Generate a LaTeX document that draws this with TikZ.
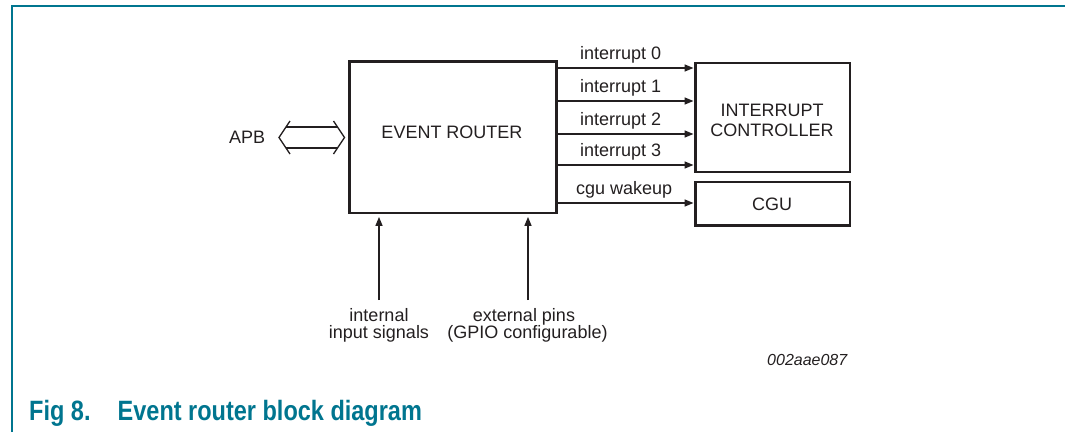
\documentclass[tikz,border=0pt]{standalone}
\usepackage{fontspec}
\usepackage{graphicx}
\setmainfont{Liberation Sans}
\usetikzlibrary{arrows.meta}
\definecolor{nxpteal}{RGB}{0,117,143}
\definecolor{ink}{RGB}{35,31,32}
\tikzset{
  blockbox/.style={draw=ink, line width=2.4pt, inner sep=0pt},
  sig/.style={draw=ink, line width=1.5pt, -{Triangle[length=9pt,width=7pt]}},
  lbl/.style={text=ink, font=\fontsize{18}{20}\selectfont, inner sep=0pt},
  tag/.style={text=ink, font=\fontsize{16}{18}\selectfont\itshape, inner sep=0pt},
  caption/.style={text=nxpteal, font=\fontsize{23.5}{26}\selectfont\bfseries, inner sep=0pt},
  busline/.style={draw=ink, line width=1.3pt},
  frameline/.style={draw=nxpteal, line width=1.8pt},
}
\begin{document}
\begin{tikzpicture}[x=1pt,y=-1pt]
  \useasboundingbox (0,0) rectangle (1065,432);
  % frame
  \draw[frameline] (11.7,432) -- (11.7,6.3) -- (1065,6.3);

  % blocks
  \node[blockbox, minimum width=207pt, minimum height=151.7pt] (er) at (453,137.35) {};
  \node[blockbox, minimum width=154.5pt, minimum height=109pt] (ic) at (772.75,117.5) {};
  \node[blockbox, minimum width=154.5pt, minimum height=43.5pt] (cgu) at (772.75,203.75) {};

  % block texts
  \node[lbl, anchor=base] (ertxt) at (452,138) {EVENT ROUTER};
  \node[lbl, anchor=base] (ictxt1) at (772,116) {INTERRUPT};
  \node[lbl, anchor=base] (ictxt2) at (772,136) {CONTROLLER};
  \node[lbl, anchor=base] (cgutxt) at (772,210) {CGU};

  % output signals
  \foreach \yy/\nm/\txt/\tx in {68/i0/interrupt 0/580, 101/i1/interrupt 1/580, 134/i2/interrupt 2/580, 165/i3/interrupt 3/580}{
    \draw[sig, shorten >=0.8pt] (er.east |- 0,\yy) -- (ic.west |- 0,\yy);
    \node[lbl, anchor=base west] (\nm) at (\tx,\yy-8.5) {\txt};
  }
  \draw[sig, shorten >=0.8pt] (er.east |- 0,203) -- (cgu.west |- 0,203);
  \node[lbl, anchor=base west] (cw) at (576,194) {cgu wakeup};

  % APB bus
  \node[lbl, anchor=base west] (apb) at (229,143) {APB};
  \coordinate (bl) at (279,137.5);
  \coordinate (br) at (344.5,137.5);
  \draw[busline, line join=miter] (290,121) -- (bl) -- (290,154);
  \draw[busline, line join=miter] (333.5,121) -- (br) -- (333.5,154);
  \draw[busline] (286,127) -- (337.5,127);
  \draw[busline] (286,148) -- (337.5,148);

  % inputs
  \coordinate (inA) at (379,300);
  \coordinate (inB) at (528,300);
  \draw[sig, shorten >=2.5pt] (inA) -- (inA |- er.south);
  \draw[sig, shorten >=2.5pt] (inB) -- (inB |- er.south);
  \node[lbl, anchor=base] (intl1) at (379,321) {internal};
  \node[lbl, anchor=base] (intl2) at (379,338) {input signals};
  \node[lbl, anchor=base] (ext1) at (524,321) {external pins};
  \node[lbl, anchor=base] (ext2) at (527.5,338) {(GPIO configurable)};

  % tag
  \node[tag, anchor=base west] (code) at (767,365) {002aae087};

  % caption
  \node[caption, anchor=base west] (fig) at (29,420) {\scalebox{1}[1.19]{Fig 8.}};
  \node[caption, anchor=base west] (cap) at (117.5,420) {\scalebox{1}[1.19]{Event router block diagram}};
\end{tikzpicture}
\end{document}
